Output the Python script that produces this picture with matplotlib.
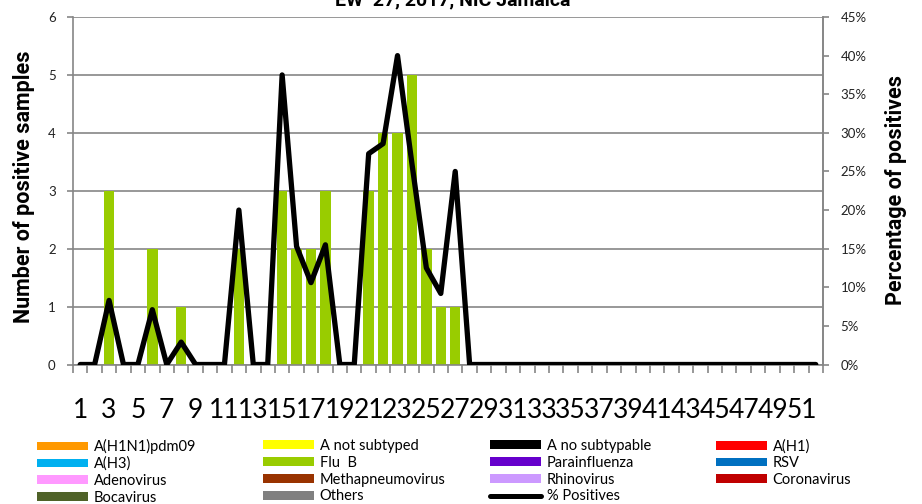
import numpy as np
import matplotlib
matplotlib.use("Agg")
import matplotlib.pyplot as plt
from matplotlib.patches import Patch
from matplotlib.lines import Line2D

plt.rcParams['font.family'] = ['Lato', 'DejaVu Sans']

weeks = list(range(1, 53))
flu_b = [0, 0, 3, 0, 0, 2, 0, 1, 0, 0, 0, 2, 0, 0, 3, 2, 2, 3, 0, 0,
         3, 4, 4, 5, 2, 1, 1] + [0] * 25
pct_pos = [0, 0, 8.3, 0, 0, 7.1, 0, 2.9, 0, 0, 0, 20.0, 0, 0, 37.5, 15.3, 10.6, 15.5, 0, 0,
           27.3, 28.6, 40.0, 26.0, 12.5, 9.2, 25.0] + [0] * 25
xtick_labels = [str(w) for w in weeks[::2]]
title = "EW  27, 2017, NIC Jamaica"

legend_labels = ["A(H1N1)pdm09", "A not subtyped", "A no subtypable", "A(H1)",
                 "A(H3)", "Flu  B", "Parainfluenza", "RSV",
                 "Adenovirus", "Methapneumovirus", "Rhinovirus", "Coronavirus",
                 "Bocavirus", "Others", "% Positives"]
legend_colors = ["#FF9900", "#FFFF00", "#000000", "#FF0000",
                 "#00B0F0", "#99CC00", "#6600CC", "#0070C0",
                 "#FF99FF", "#993300", "#CC99FF", "#C00000",
                 "#4F6228", "#808080", "#000000"]

bold_family = ['Roboto', 'DejaVu Sans']
narrow_family = ['Liberation Sans Narrow', 'Lato', 'DejaVu Sans']

W, H = 922, 504
fig = plt.figure(figsize=(W / 100, H / 100), dpi=100)
L, R, T, B = 73, 823, 17, 364.5
ax = fig.add_axes([L / W, 1 - B / H, (R - L) / W, (B - T) / H])
gray = '#868686'

ax.bar(weeks, flu_b, width=0.72, color='#99CC00', zorder=2)
ax.set_xlim(0.5, 52.5)
ax.set_ylim(0, 6)
ax.set_yticks(range(7))
ax.yaxis.grid(True, color=gray, lw=1.2)
ax.set_axisbelow(True)
ax.spines['top'].set_visible(False)
for s in ['left', 'bottom', 'right']:
    ax.spines[s].set_color(gray)
    ax.spines[s].set_linewidth(1.2)

ax.set_xticks(weeks[::2])
ax.set_xticklabels(xtick_labels, family=narrow_family, fontsize=19)
ax.set_xticks(np.arange(0.5, 53, 1), minor=True)
ax.tick_params(axis='x', which='major', length=0, pad=24)
ax.tick_params(axis='x', which='minor', length=5.5, color=gray, width=1.2)
ax.tick_params(axis='y', length=4.5, color=gray, width=1.2, pad=8, labelsize=9.5, labelcolor='#222222')

ax2 = ax.twinx()
ax2.set_ylim(0, 0.45)
ax2.plot(weeks, np.array(pct_pos) / 100, color='black', lw=3.8,
         solid_joinstyle='round', solid_capstyle='round', zorder=3)
ax2.set_yticks(np.arange(0, 0.46, 0.05))
ax2.set_yticklabels([f"{int(round(v * 100))}%" for v in np.arange(0, 0.46, 0.05)])
ax2.tick_params(axis='y', length=4.5, color=gray, width=1.2, pad=8, labelsize=9.5, labelcolor='#222222')
for s in ['top', 'left', 'bottom']:
    ax2.spines[s].set_visible(False)
ax2.spines['right'].set_color(gray)
ax2.spines['right'].set_linewidth(1.2)

fig.text(453 / W, 1 - 5 / H, title, ha='center', va='baseline', fontsize=14,
         fontweight='bold', family=bold_family)
fig.text(24 / W, 1 - 186.5 / H, "Number of positive samples", rotation=90, ha='center', va='center',
         rotation_mode='anchor', fontsize=15.5, fontweight='bold', family=bold_family)
fig.text(896 / W, 1 - 190 / H, "Percentage of positives", rotation=90, ha='center', va='center',
         rotation_mode='anchor', fontsize=15.5, fontweight='bold', family=bold_family)

# legend: 4 columns, row-major order
handles = []
for lab, col in zip(legend_labels, legend_colors):
    if lab == "% Positives":
        handles.append(Line2D([], [], color=col, lw=3.6, solid_capstyle='round'))
    else:
        handles.append(Patch(facecolor=col, edgecolor='none'))
col_x = [36.6, 263, 489.7, 715.6]
for c in range(4):
    idx = [i for i in range(c, len(handles), 4)]
    fig.legend([handles[i] for i in idx], [legend_labels[i] for i in idx],
               loc='upper left', bbox_to_anchor=(col_x[c] / W, 1 - 439 / H),
               frameon=False, fontsize=10.5, borderpad=0, borderaxespad=0,
               handlelength=3.5, handleheight=0.55, handletextpad=0.4,
               labelspacing=0.19)

fig.savefig("out.png", dpi=100)
